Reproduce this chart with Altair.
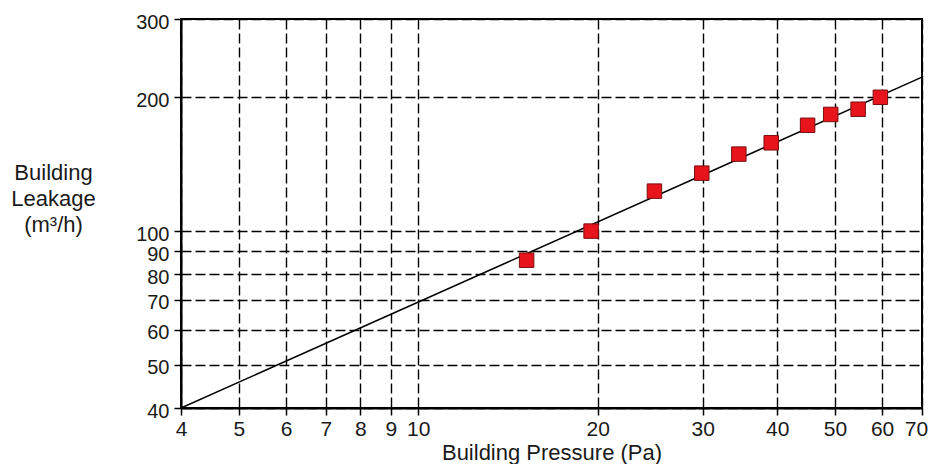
import altair as alt
import pandas as pd

# Measured points (Building Pressure in Pa, Building Leakage in m³/h)
pressure = [15.2, 19.5, 24.9, 29.9, 34.5, 39.1, 45.0, 49.2, 54.7, 59.6]
leakage = [86, 100, 123, 135, 149, 158, 173, 183, 188, 200]

# Fitted power-law line, end points
fit_pressure = [4, 70]
fit_leakage = [40, 222]

x_ticks = [4, 5, 6, 7, 8, 9, 10, 20, 30, 40, 50, 60, 70]
y_ticks = [40, 50, 60, 70, 80, 90, 100, 200, 300]

pts = pd.DataFrame({"p": pressure, "q": leakage})
fit = pd.DataFrame({"p": fit_pressure, "q": fit_leakage})

FONT = "Liberation Sans"
INK = "#1a1a1a"

x_enc = alt.X(
    "p:Q",
    scale=alt.Scale(type="log", domain=[4, 70], nice=False),
    axis=alt.Axis(
        values=x_ticks,
        format="d",
        title="Building Pressure (Pa)",
        titleFontSize=22,
        titleFontWeight="normal",
        titleFont=FONT,
        titleColor=INK,
        titleBaseline="alphabetic",
        titleY=51,
        labelFontSize=21,
        labelFont=FONT,
        labelColor=INK,
        labelPadding=3,
        labelOffset={"expr": "datum.value == 70 ? -6 : 0"},
        labelFlush=False,
        labelOverlap=False,
        tickSize=7,
        tickColor="black",
        tickWidth=1.5,
        domainColor="black",
        domainWidth=2,
        grid=True,
        gridColor="black",
        gridDash=[10, 4],
        gridWidth=1.4,
    ),
)

y_enc = alt.Y(
    "q:Q",
    scale=alt.Scale(type="log", domain=[40, 300], nice=False),
    axis=alt.Axis(
        values=y_ticks,
        format="d",
        title=["Building", "Leakage", "(m³/h)"],
        titleAngle=0,
        titleAlign="center",
        titleBaseline="alphabetic",
        titleX=-128,
        titleY=160,
        titleLineHeight=26,
        titleFontSize=22,
        titleFontWeight="normal",
        titleFont=FONT,
        titleColor=INK,
        labelFontSize=20,
        labelFont=FONT,
        labelColor=INK,
        labelPadding=5,
        labelOffset=3,
        labelFlush=False,
        labelOverlap=False,
        tickSize=7,
        tickColor="black",
        tickWidth=1.5,
        domainColor="black",
        domainWidth=2,
        grid=True,
        gridColor="black",
        gridDash=[10, 4],
        gridWidth=1.4,
    ),
)

line = alt.Chart(fit).mark_line(color="black", strokeWidth=1.5).encode(x=x_enc, y=y_enc)

points = alt.Chart(pts).mark_point(
    shape="square", filled=True, size=210, fill="#e8141c",
    stroke="#7a1010", strokeWidth=1, opacity=1
).encode(x="p:Q", y="q:Q")

chart = alt.layer(line, points).properties(
    width=741,
    height=389,
    autosize="none",
    padding={"left": 173, "top": 11, "right": 6, "bottom": 56},
    background="white",
).configure_view(stroke="black", strokeWidth=2)

chart.save("out.html", embed_options={"renderer": "svg", "actions": False})
